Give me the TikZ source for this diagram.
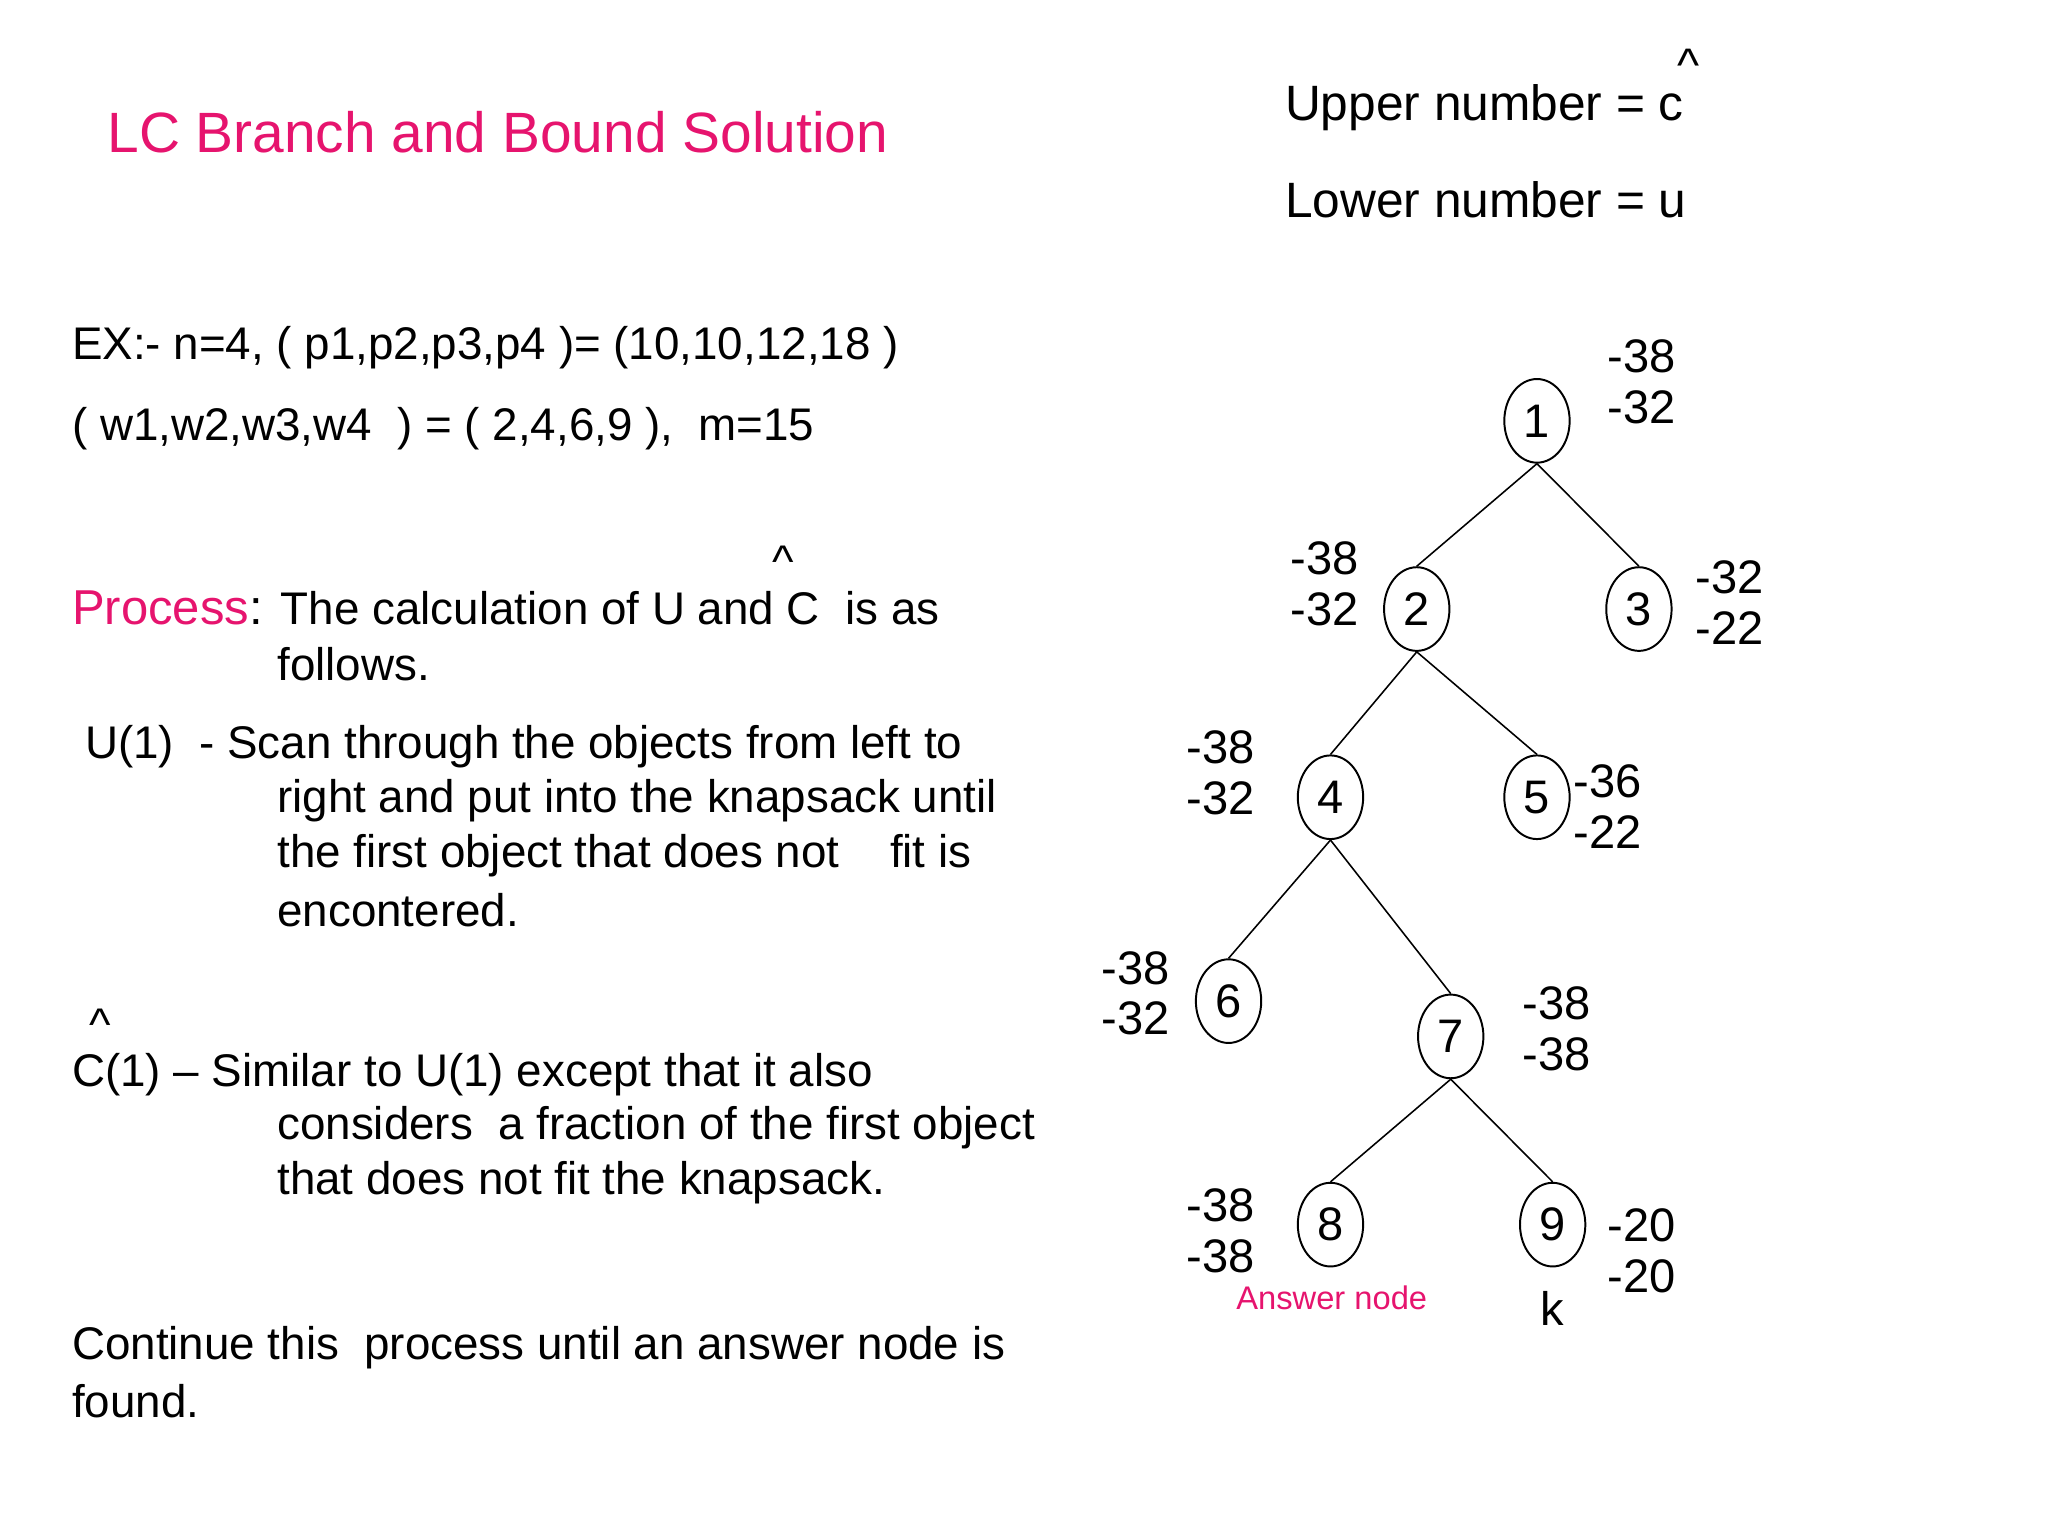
\documentclass[tikz,border=0pt]{standalone}
\usepackage{fontspec}
\setmainfont{Liberation Sans}
\usetikzlibrary{shapes.geometric}
\definecolor{pk}{RGB}{230,20,110}
\begin{document}
\begin{tikzpicture}[x=1pt,y=-1pt,
  tn/.style={draw,line width=1.5pt,ellipse,minimum width=50pt,minimum height=64pt,inner sep=0pt,font=\fontsize{36}{40}\selectfont},
  lab/.style={align=left,font=\fontsize{36}{39}\selectfont,inner sep=0pt},
  txt/.style={anchor=west,inner sep=0pt,font=\fontsize{35}{38}\selectfont},
  ed/.style={line width=1.2pt}]
\useasboundingbox (0,0) rectangle (1567,1175);
% left text
\node[txt,text=pk,font=\fontsize{43.5}{47}\selectfont] (title) at (82,101) {LC Branch and Bound Solution};
\node[txt] (ex1) at (55,266) {EX:- n=4, ( p1,p2,p3,p4 )= (10,10,12,18 )};
\node[txt] (ex2) at (55,328) {( w1,w2,w3,w4\ \ ) = ( 2,4,6,9 ),\ \ m=15};
\node[txt] (pr) at (55,465) {\fontsize{37.5}{40}\selectfont\textcolor{pk}{Process}: \fontsize{35}{38}\selectfont The calculation of U and C\ \ is as};
\node[txt] (hat1) at (591,430) {\textasciicircum};
\node[txt] (pr2) at (212,508) {follows.};
\node[txt] (u1) at (65,571) {U(1)\ \ - Scan through the objects from left to};
\node[txt] (u2) at (212,613) {right and put into the knapsack until};
\node[txt] (u3) at (212,655) {the first object that does not\ \ \ \ fit is};
\node[txt] (u4) at (212,696) {encontered.};
\node[txt] (hat2) at (68,784) {\textasciicircum};
\node[txt] (c1) at (55,822) {C(1) -- Similar to U(1) except that it also};
\node[txt] (c2) at (212,863) {considers\ \ a fraction of the first object};
\node[txt] (c3) at (212,905) {that does not fit the knapsack.};
\node[txt] (k1) at (55,1031) {Continue this\ \ process until an answer node is};
\node[txt] (k2) at (55,1072) {found.};
% legend
\node[txt,font=\fontsize{38}{42}\selectfont] (up) at (983,82) {Upper number = c};
\node[txt,font=\fontsize{36}{40}\selectfont] (hat3) at (1283,50) {\textasciicircum};
\node[txt,font=\fontsize{38}{42}\selectfont] (lo) at (983,153) {Lower number = u};
% tree
\node[tn] (n1) at (1176,322) {1};
\node[tn] (n2) at (1084,466) {2};
\node[tn] (n3) at (1254,466) {3};
\node[tn] (n4) at (1018,610) {4};
\node[tn] (n5) at (1176,610) {5};
\node[tn] (n6) at (940,766) {6};
\node[tn] (n7) at (1110,793) {7};
\node[tn] (n8) at (1018,937) {8};
\node[tn] (n9) at (1188,937) {9};
\draw[ed] (n1.south) -- (n2.north);
\draw[ed] (n1.south) -- (n3.north);
\draw[ed] (n2.south) -- (n4.north);
\draw[ed] (n2.south) -- (n5.north);
\draw[ed] (n4.south) -- (n6.north);
\draw[ed] (n4.south) -- (n7.north);
\draw[ed] (n7.south) -- (n8.north);
\draw[ed] (n7.south) -- (n9.north);
\node[lab,anchor=west] (l1) at (1230,292) {-38\\-32};
\node[lab,anchor=east,align=right] (l2) at (1040,447) {-38\\-32};
\node[lab,anchor=west] (l3) at (1297,461) {-32\\-22};
\node[lab,anchor=east,align=right] (l4) at (960,591) {-38\\-32};
\node[lab,anchor=west] (l5) at (1204,617) {-36\\-22};
\node[lab,anchor=east,align=right] (l6) at (895,760) {-38\\-32};
\node[lab,anchor=west] (l7) at (1165,787) {-38\\-38};
\node[lab,anchor=east,align=right] (l8) at (960,942) {-38\\-38};
\node[lab,anchor=west] (l9) at (1230,957) {-20\\-20};
\node[text=pk,font=\fontsize{25}{28}\selectfont,inner sep=0pt] (ans) at (1019,993) {Answer node};
\node[font=\fontsize{36}{38}\selectfont,inner sep=0pt] (kk) at (1188,1001) {k};
\end{tikzpicture}
\end{document}
